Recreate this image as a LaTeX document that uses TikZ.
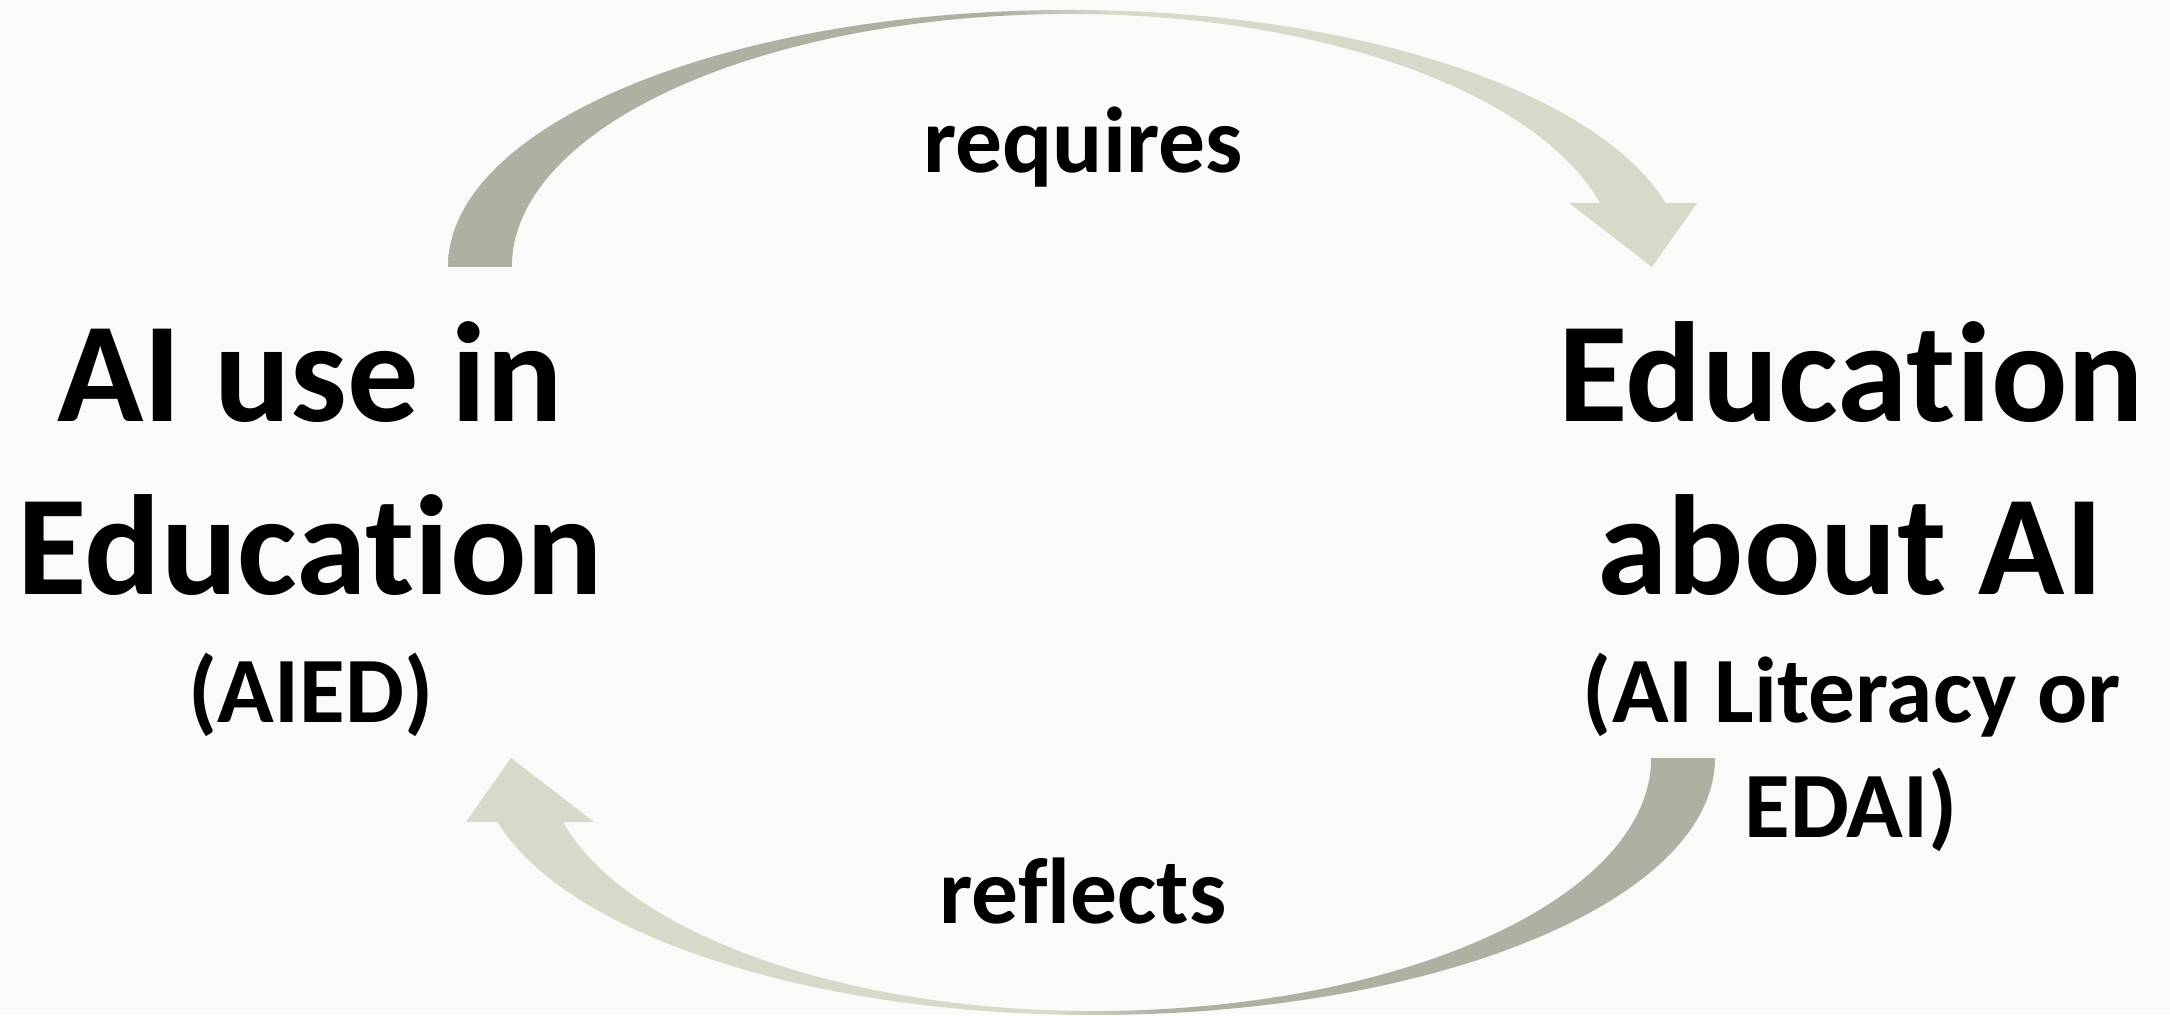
\documentclass[tikz,border=0pt]{standalone}
\usepackage{fontspec}
\setmainfont{Carlito}[Ligatures=NoCommon]
\usetikzlibrary{positioning}
\definecolor{pagebg}{RGB}{250,250,248}
\definecolor{arrowdark}{RGB}{175,176,162}
\definecolor{arrowlight}{RGB}{216,217,200}
\pgfdeclarehorizontalshading{cycleshade}{100bp}{color(0bp)=(arrowdark); color(47bp)=(arrowdark); color(51.5bp)=(arrowlight); color(100bp)=(arrowlight)}

\begin{document}
\begin{tikzpicture}[x=0.01cm,y=0.01cm,
    bigtext/.style={inner sep=0,anchor=base,font=\bfseries\fontsize{40.5}{48}\selectfont},
    smalltext/.style={inner sep=0,anchor=base,font=\bfseries\fontsize{26.6}{32}\selectfont},
    cyclearrow/.style={shading=cycleshade}]
\useasboundingbox (0,0) rectangle (2170,1015);
\fill[pagebg] (0,0) rectangle (2170,1015);

% upper arrow: AIED -> EDAI
\path[cyclearrow] (448,748) arc[start angle=180,end angle=90,x radius=622,y radius=257]
    arc[start angle=90,end angle=14.42,x radius=615,y radius=257]
    -- (1697,812) -- (1652,748) -- (1569,812) -- (1600,812)
    arc[start angle=14.65,end angle=90,x radius=548,y radius=253]
    arc[start angle=90,end angle=180,x radius=558,y radius=253] -- cycle;

% lower arrow: EDAI -> AIED
\path[cyclearrow,shading angle=180] (1715,257) arc[start angle=0,end angle=-90,x radius=622,y radius=257]
    arc[start angle=270,end angle=194.42,x radius=615,y radius=257]
    -- (466,193) -- (511,257) -- (594,193) -- (563,193)
    arc[start angle=194.65,end angle=270,x radius=548,y radius=253]
    arc[start angle=-90,end angle=0,x radius=558,y radius=253] -- cycle;

\node[bigtext] (aiuse) at (310,593) {AI use in};
\node[bigtext] (ineducation) at (310,420) {Education};
\node[smalltext] (aied) at (311,292) {(AIED)};

\node[bigtext] (education) at (1851,593) {Education};
\node[bigtext] (aboutai) at (1850,420) {about AI};
\node[smalltext] (literacy) at (1852,292) {(AI Literacy or};
\node[smalltext] (edai) at (1851,177) {EDAI)};

\node[smalltext] (requires) at (1083,842) {requires};
\node[smalltext] (reflects) at (1083,92) {reflects};
\end{tikzpicture}
\end{document}
